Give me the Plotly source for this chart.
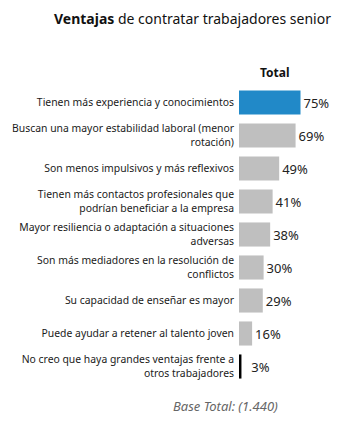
import plotly.graph_objects as go

categories = [
    "Tienen más experiencia y conocimientos",
    "Buscan una mayor estabilidad laboral (menor<br>rotación)",
    "Son menos impulsivos y más reflexivos",
    "Tienen más contactos profesionales que<br>podrían beneficiar a la empresa",
    "Mayor resiliencia o adaptación a situaciones<br>adversas",
    "Son más mediadores en la resolución de<br>conflictos",
    "Su capacidad de enseñar es mayor",
    "Puede ayudar a retener al talento joven",
    "No creo que haya grandes ventajas frente a<br>otros trabajadores",
]
values = [75, 69, 49, 41, 38, 30, 29, 16, 3]
bar_colors = ["#2189C8"] + ["#BFBFBF"] * 7 + ["#000000"]

FONT = "Noto Sans"
W, H = 342, 426
L, R, T, B = 236, 20.5, 86, 42.5
pw = W - L - R
ph = H - T - B

labels = [f"{v}%" if v >= 5 else f"  {v}%" for v in values]

fig = go.Figure(go.Bar(
    x=values, y=categories, orientation="h",
    marker=dict(color=bar_colors, line=dict(width=0)),
    text=labels, textposition="outside",
    textfont=dict(family=FONT, size=13, color="#222222"),
    cliponaxis=False, hoverinfo="skip",
))

def px_x(x):
    return (x - L) / pw

def px_y(y):
    return 1 - (y - T) / ph

fig.update_layout(
    width=W, height=H,
    margin=dict(l=L, r=R, t=T, b=B),
    paper_bgcolor="white", plot_bgcolor="white",
    showlegend=False,
    bargap=0.27,
    xaxis=dict(range=[0, 100], visible=False, fixedrange=True),
    yaxis=dict(autorange="reversed", showgrid=False, zeroline=False, showline=False,
               ticks="", ticklabelstandoff=4,
               tickfont=dict(family=FONT, size=10.4, color="#1a1a1a")),
    annotations=[
        dict(text="<b>Ventajas</b> de contratar trabajadores senior",
             xref="paper", yref="paper", x=px_x(188), y=px_y(18),
             xanchor="center", yanchor="middle", showarrow=False,
             font=dict(family=FONT, size=14, color="#111111")),
        dict(text="<b>Total</b>", xref="paper", yref="paper",
             x=px_x(274), y=px_y(72), xanchor="center", yanchor="middle",
             showarrow=False, font=dict(family=FONT, size=12, color="#111111")),
        dict(text="<i>Base Total: (1.440)</i>", xref="paper", yref="paper",
             x=px_x(222), y=px_y(407), xanchor="center", yanchor="middle",
             showarrow=False, font=dict(family=FONT, size=13, color="#666666")),
    ],
)

fig.write_html("out.html", config={"displayModeBar": False})
